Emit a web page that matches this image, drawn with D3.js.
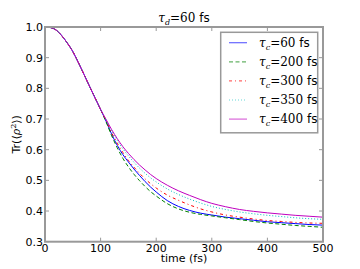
<!DOCTYPE html>
<html><head><meta charset="utf-8">
<script src="https://cdn.jsdelivr.net/npm/d3@7"></script>
<style>body{margin:0;background:#fff}svg{display:block}</style>
</head><body>
<svg id="c" width="360" height="269"></svg>
<script>
const times = [0,10,20,30,40,50,60,70,80,90,100,110,120,130,140,150,160,170,180,190,200,220,240,260,280,300,325,350,375,400,425,450,475,500];
const common = [1.0,0.998,0.99,0.972,0.948,0.92,0.884,0.846,0.807,0.769,0.731];
const tau60  = common.concat([0.692,0.650,0.614,0.584,0.560,0.537,0.516,0.496,0.478,0.462,0.434,0.415,0.402,0.393,0.387,0.380,0.375,0.370,0.365,0.362,0.359,0.356,0.354]);
const tau200 = common.concat([0.690,0.645,0.606,0.572,0.544,0.520,0.499,0.480,0.463,0.449,0.424,0.407,0.396,0.389,0.384,0.378,0.372,0.366,0.361,0.357,0.353,0.350,0.347]);
const tau300 = common.concat([0.695,0.655,0.621,0.591,0.565,0.543,0.523,0.505,0.489,0.475,0.452,0.435,0.420,0.407,0.397,0.387,0.380,0.374,0.369,0.366,0.363,0.361,0.360]);
const tau350 = common.concat([0.697,0.661,0.630,0.603,0.580,0.559,0.540,0.523,0.508,0.495,0.472,0.454,0.439,0.426,0.415,0.405,0.397,0.391,0.386,0.382,0.378,0.375,0.373]);
const tau400 = common.concat([0.698,0.665,0.636,0.610,0.588,0.568,0.550,0.534,0.519,0.506,0.484,0.466,0.451,0.437,0.425,0.414,0.405,0.399,0.394,0.390,0.386,0.383,0.380]);
const seriesLabels = ["60","200","300","350","400"];
const seriesValues = [tau60,tau200,tau300,tau350,tau400];
const seriesColors = ["#0000ff","#008000","#ff0000","#00bfbf","#bf00bf"];
const seriesDash = [null,"4,2.5","3,3,1,3","1,2",null];
const xTicks = [0,100,200,300,400,500];
const yTicks = [0.3,0.4,0.5,0.6,0.7,0.8,0.9,1.0];

const svg = d3.select("#c");
const L=45,R=323,T=27,B=241.7;
const x = d3.scaleLinear().domain([0,500]).range([L,R]);
const y = d3.scaleLinear().domain([0.3,1.0]).range([B,T]);
const sans = "DejaVu Sans", serif = "DejaVu Serif";

svg.append("clipPath").attr("id","cp").append("rect").attr("x",L).attr("y",T).attr("width",R-L).attr("height",B-T);
const line = d3.line().x((d,i)=>x(times[i])).y(d=>y(d)).curve(d3.curveMonotoneX);
seriesValues.forEach((vals,k)=>{
  svg.append("path").attr("d",line(vals)).attr("fill","none")
    .attr("stroke",seriesColors[k]).attr("stroke-width",1)
    .attr("stroke-dasharray",seriesDash[k]).attr("clip-path","url(#cp)");
});

const gray="#999";
svg.append("rect").attr("x",L).attr("y",T).attr("width",R-L).attr("height",B-T)
  .attr("fill","none").attr("stroke",gray).attr("stroke-width",2);

const tl=4;
xTicks.forEach(t=>{
  svg.append("line").attr("x1",x(t)).attr("x2",x(t)).attr("y1",B).attr("y2",B-tl).attr("stroke",gray);
  svg.append("line").attr("x1",x(t)).attr("x2",x(t)).attr("y1",T).attr("y2",T+tl).attr("stroke",gray);
  svg.append("text").attr("x",x(t)).attr("y",252).attr("text-anchor","middle")
    .attr("font-family",sans).attr("font-size",11).text(t);
});
yTicks.forEach(v=>{
  svg.append("line").attr("x1",L).attr("x2",L+tl).attr("y1",y(v)).attr("y2",y(v)).attr("stroke",gray);
  svg.append("line").attr("x1",R).attr("x2",R-tl).attr("y1",y(v)).attr("y2",y(v)).attr("stroke",gray);
  svg.append("text").attr("x",43).attr("y",y(v)+4).attr("text-anchor","end")
    .attr("font-family",sans).attr("font-size",11).text(v.toFixed(1));
});

svg.append("text").attr("x",(L+R)/2).attr("y",262).attr("text-anchor","middle")
  .attr("font-family",sans).attr("font-size",11).text("time (fs)");
const yl = svg.append("text").attr("transform",`translate(20,${(T+B)/2}) rotate(-90)`)
  .attr("text-anchor","middle").attr("font-family",sans).attr("font-size",11);
yl.append("tspan").text("Tr(");
yl.append("tspan").attr("font-family",serif).text("⟨");
yl.append("tspan").attr("font-family",serif).attr("font-style","italic").text("ρ");
yl.append("tspan").attr("font-family",serif).attr("font-size",8).attr("dy",-4).text("2");
yl.append("tspan").attr("font-family",serif).attr("dy",4).text("⟩");
yl.append("tspan").text(")");

const tt = svg.append("text").attr("x",(L+R)/2).attr("y",22).attr("text-anchor","middle")
  .attr("font-size",12);
tt.append("tspan").attr("font-family",serif).attr("font-style","italic").text("τ");
tt.append("tspan").attr("font-family",serif).attr("font-style","italic").attr("font-size",8).attr("dy",3).text("d");
tt.append("tspan").attr("font-family",serif).attr("dy",-3).text("=60");
tt.append("tspan").attr("font-family",sans).text(" fs");

const lx=220.7, ly=32.3, lw=97, lh=100.5;
svg.append("rect").attr("x",lx).attr("y",ly).attr("width",lw).attr("height",lh)
  .attr("fill","#fff").attr("stroke",gray).attr("stroke-width",1.5);
seriesLabels.forEach((s,k)=>{
  const cy = 42.7 + k*19.1;
  svg.append("line").attr("x1",229).attr("x2",247).attr("y1",cy).attr("y2",cy)
    .attr("stroke",seriesColors[k]).attr("stroke-width",1.2).attr("stroke-opacity",0.6)
    .attr("stroke-dasharray",seriesDash[k]);
  const t = svg.append("text").attr("x",259).attr("y",cy+4).attr("font-size",12);
  t.append("tspan").attr("font-family",serif).attr("font-style","italic").text("τ");
  t.append("tspan").attr("font-family",serif).attr("font-style","italic").attr("font-size",8).attr("dy",3).text("c");
  t.append("tspan").attr("font-family",serif).attr("dy",-3).text("="+s);
  t.append("tspan").attr("font-family",sans).text(" fs");
});
</script>
</body></html>
